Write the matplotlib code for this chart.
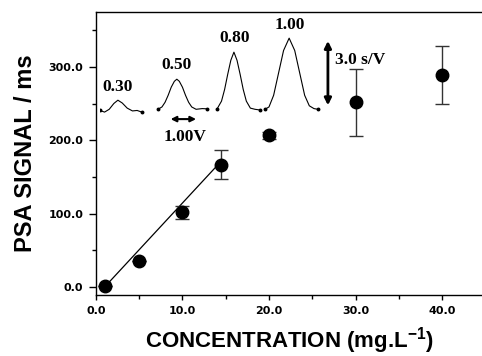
import matplotlib.pyplot as plt
from matplotlib.ticker import MultipleLocator, FormatStrFormatter

# calibration points (concentration in mg/L, PSA signal in ms)
conc = [1, 5, 10, 14.5, 20, 30, 40]
signal = [1, 35, 102, 167, 207, 252, 289]
signal_err = [0, 0, 9, 20, 5, 46, 40]

# linear range fit
fit_x = [1, 14.5]
fit_y = [0, 172]

# inset: PSA traces (x in V, y in s)
peak_labels = ['0.30', '0.50', '0.80', '1.00']
trace1_x = [0.0, 0.15, 0.3, 0.45, 0.58, 0.72, 0.88, 1.05, 1.2, 1.35]
trace1_y = [-0.1, -0.17, -0.05, 0.2, 0.34, 0.22, 0.0, -0.12, -0.1, -0.17]
trace2_x = [1.87, 2.0, 2.1, 2.2, 2.3, 2.4, 2.48, 2.56, 2.66, 2.76, 2.86, 2.96, 3.1, 3.3, 3.45]
trace2_y = [-0.05, 0.05, 0.25, 0.55, 0.9, 1.15, 1.24, 1.15, 0.9, 0.55, 0.25, 0.05, -0.05, -0.02, -0.03]
trace3_x = [3.77, 3.92, 4.02, 4.12, 4.22, 4.32, 4.42, 4.52, 4.62, 4.72, 4.85, 5.0, 5.16]
trace3_y = [-0.05, 0.3, 0.8, 1.45, 2.05, 2.4, 2.05, 1.45, 0.8, 0.3, 0.0, -0.05, -0.08]
trace4_x = [5.32, 5.45, 5.6, 5.75, 5.92, 6.1, 6.28, 6.45, 6.6, 6.75, 6.9, 7.03]
trace4_y = [-0.05, 0.05, 0.55, 1.45, 2.47, 3.0, 2.47, 1.45, 0.55, 0.1, -0.02, -0.05]
label_x = [0.58, 2.48, 4.35, 6.13]
label_y = [0.9, 1.84, 3.0, 3.56]

fig = plt.figure(figsize=(4.82, 3.56), dpi=100)
ax = fig.add_axes([0.199, 0.171, 0.801, 0.795])

ax.errorbar(conc, signal, yerr=signal_err, fmt='o', color='black', ms=9,
            ecolor='#333333', elinewidth=1.0, capsize=5, capthick=1.0, zorder=3)
ax.plot(fit_x, fit_y, color='black', lw=0.9, zorder=2)

ax.set_xlim(0, 44.6)
ax.set_ylim(-11, 375)
ax.xaxis.set_major_locator(MultipleLocator(10))
ax.xaxis.set_minor_locator(MultipleLocator(5))
ax.yaxis.set_major_locator(MultipleLocator(100))
ax.yaxis.set_minor_locator(MultipleLocator(50))
ax.xaxis.set_major_formatter(FormatStrFormatter('%.1f'))
ax.yaxis.set_major_formatter(FormatStrFormatter('%.1f'))
ax.tick_params(which='major', direction='out', length=5, width=1, pad=4)
ax.tick_params(which='minor', direction='out', length=3, width=1)
ax.tick_params(axis='x', which='major', length=3.5)
for lab in ax.get_xticklabels() + ax.get_yticklabels():
    lab.set_fontsize(8)
    lab.set_fontweight('bold')
    lab.set_family('DejaVu Sans')
ax.spines['right'].set_visible(False)
for s in ['left', 'bottom', 'top']:
    ax.spines[s].set_linewidth(1.0)

ax.set_xlabel('CONCENTRATION (mg.L$^{\\mathregular{-1}}$)', fontsize=16, fontweight='bold',
              family='Liberation Sans', labelpad=7)
ax.set_ylabel('PSA SIGNAL / ms', fontsize=17, fontweight='bold',
              family='Liberation Sans', labelpad=8)

# inset with the PSA traces
ins = ax.inset_axes([0.46, 180.4, 28.67, 190.9], transform=ax.transData)
ins.set_xlim(0, 8)
ins.set_ylim(-2, 4)
ins.set_axis_off()
for tx, ty in [(trace1_x, trace1_y), (trace2_x, trace2_y),
               (trace3_x, trace3_y), (trace4_x, trace4_y)]:
    ins.plot(tx, ty, color='black', lw=0.8)
    ins.plot([tx[0], tx[-1]], [ty[0], ty[-1]], 'o', color='black', ms=1.8)

serif = dict(family='Liberation Serif', fontweight='bold', fontsize=12.5,
             ha='center', va='center', clip_on=False)
for lx, ly, lab in zip(label_x, label_y, peak_labels):
    ins.text(lx, ly, lab, **serif)
ins.annotate('', xy=(2.19, -0.47), xytext=(3.19, -0.47),
             arrowprops=dict(arrowstyle='<|-|>', color='black', lw=1.5,
                             mutation_scale=8))
ins.text(2.74, -1.24, '1.00V', **serif)
ins.annotate('', xy=(7.35, 3.0), xytext=(7.35, 0.0),
             arrowprops=dict(arrowstyle='<|-|>', color='black', lw=2,
                             mutation_scale=10))
ins.text(7.58, 2.06, '3.0 s/V', family='Liberation Serif', fontweight='bold',
         fontsize=12.5, ha='left', va='center', clip_on=False)

fig.savefig('out.png', dpi=100)
